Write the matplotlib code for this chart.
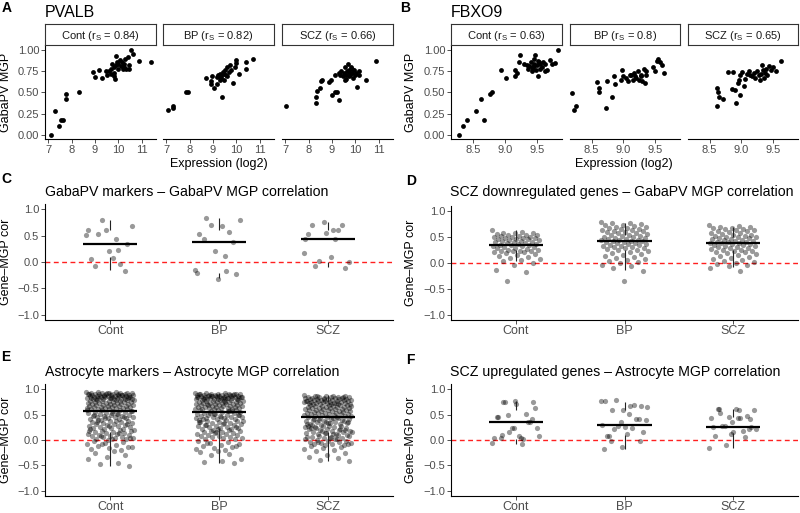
import numpy as np
import matplotlib.pyplot as plt

plt.rcParams['font.family'] = ['Liberation Sans', 'DejaVu Sans']
plt.rcParams['mathtext.fontset'] = 'custom'
plt.rcParams['mathtext.rm'] = 'Liberation Sans'

# ---------------- data: panel A (PVALB) ----------------
groups = ['Cont', 'BP', 'SCZ']
pvalb_rs = ['0.84', '0.82', '0.66']
fbxo9_rs = ['0.63', '0.8', '0.65']

pvalb_cont_x = [7.10, 7.28, 7.45, 7.52, 7.63, 7.77, 7.77, 8.30, 8.90, 8.98, 9.17, 9.29, 9.46, 9.60,
                9.67, 9.74, 9.80, 9.83, 9.87, 9.92, 9.95, 9.98, 10.00, 10.06, 10.12, 10.16, 10.20,
                10.26, 10.30, 10.34, 10.40, 10.44, 10.48, 10.54, 10.65, 10.90, 11.39, 9.80, 9.67,
                9.53, 10.25, 9.90]
pvalb_cont_y = [0.00, 0.28, 0.10, 0.18, 0.18, 0.48, 0.42, 0.50, 0.74, 0.68, 0.76, 0.67, 0.75, 0.75,
                0.78, 0.84, 0.80, 0.73, 0.66, 0.93, 0.86, 0.78, 0.84, 0.88, 0.81, 0.86, 0.78,
                0.84, 0.89, 0.78, 0.92, 0.78, 0.82, 1.00, 0.95, 0.87, 0.86, 0.69, 0.72,
                0.70, 0.80, 0.82]
pvalb_bp_x = [7.07, 7.27, 7.28, 7.85, 7.92, 8.70, 8.90, 8.90, 8.96, 9.03, 9.15, 9.22, 9.29, 9.36,
              9.39, 9.44, 9.48, 9.50, 9.55, 9.58, 9.62, 9.67, 9.72, 9.77, 9.86, 9.94, 9.97, 10.00,
              10.11, 10.40, 10.42, 10.72, 9.36, 9.46, 9.15, 9.29]
pvalb_bp_y = [0.29, 0.32, 0.34, 0.50, 0.50, 0.67, 0.64, 0.60, 0.69, 0.55, 0.60, 0.71, 0.65, 0.69,
              0.45, 0.74, 0.65, 0.77, 0.71, 0.80, 0.69, 0.74, 0.82, 0.76, 0.61, 0.80, 0.88, 0.85,
              0.72, 0.78, 0.86, 0.89, 0.67, 0.72, 0.68, 0.72]
pvalb_scz_x = [7.04, 8.30, 8.33, 8.36, 8.47, 8.54, 8.57, 8.85, 8.96, 9.00, 9.14, 9.21, 9.28, 9.14,
               9.28, 9.36, 9.40, 9.47, 9.50, 9.54, 9.57, 9.61, 9.64, 9.68, 9.71, 9.75, 9.78, 9.82,
               9.86, 9.90, 9.96, 10.00, 10.04, 10.07, 10.14, 10.18, 10.47, 10.90, 9.61, 9.86, 9.75]
pvalb_scz_y = [0.34, 0.37, 0.45, 0.52, 0.55, 0.63, 0.65, 0.62, 0.65, 0.47, 0.51, 0.51, 0.41, 0.71,
               0.73, 0.70, 0.75, 0.69, 0.73, 0.65, 0.80, 0.71, 0.75, 0.84, 0.69, 0.76, 0.71, 0.80,
               0.73, 0.67, 0.76, 0.71, 0.73, 0.56, 0.75, 0.71, 0.65, 0.87, 0.66, 0.78, 0.74]

# ---------------- data: panel B (FBXO9) ----------------
fbxo9_cont_x = [8.29, 8.35, 8.41, 8.55, 8.62, 8.67, 8.77, 8.80, 8.94, 9.02, 9.15, 9.16, 9.19, 9.22,
                9.24, 9.30, 9.34, 9.38, 9.40, 9.42, 9.44, 9.45, 9.46, 9.47, 9.48, 9.50, 9.51, 9.53,
                9.54, 9.55, 9.58, 9.60, 9.62, 9.63, 9.66, 9.71, 9.74, 9.78, 9.83, 9.42, 9.36, 9.45,
                9.51]
fbxo9_cont_y = [0.00, 0.10, 0.18, 0.28, 0.42, 0.18, 0.48, 0.50, 0.76, 0.67, 0.77, 0.69, 0.73, 0.86,
                0.94, 0.84, 0.82, 0.81, 0.86, 0.80, 0.78, 0.90, 0.84, 0.94, 0.76, 0.82, 0.69, 0.86,
                0.78, 0.84, 0.80, 0.86, 0.83, 0.75, 0.76, 0.88, 0.84, 0.85, 1.00, 0.75, 0.78, 0.81,
                0.87]
fbxo9_bp_x = [8.19, 8.22, 8.25, 8.58, 8.61, 8.62, 8.74, 8.73, 8.82, 8.85, 8.87, 8.96, 8.98, 9.00,
              9.04, 9.08, 9.12, 9.15, 9.18, 9.20, 9.23, 9.25, 9.27, 9.30, 9.32, 9.34, 9.35, 9.36,
              9.47, 9.50, 9.53, 9.55, 9.58, 9.61, 9.64, 9.17, 9.10, 9.28]
fbxo9_bp_y = [0.49, 0.29, 0.34, 0.62, 0.55, 0.50, 0.64, 0.32, 0.45, 0.69, 0.60, 0.65, 0.77, 0.69,
              0.67, 0.63, 0.71, 0.65, 0.69, 0.67, 0.75, 0.65, 0.71, 0.63, 0.78, 0.61, 0.70, 0.75,
              0.80, 0.75, 0.87, 0.89, 0.86, 0.82, 0.73, 0.73, 0.70, 0.69]
fbxo9_scz_x = [8.61, 8.62, 8.63, 8.65, 8.71, 8.79, 8.85, 8.87, 8.90, 8.92, 8.95, 8.96, 8.97, 8.98,
               9.01, 9.04, 9.06, 9.09, 9.12, 9.14, 9.17, 9.20, 9.22, 9.25, 9.27, 9.29, 9.31, 9.33,
               9.34, 9.35, 9.37, 9.39, 9.41, 9.44, 9.46, 9.50, 9.55, 9.62]
fbxo9_scz_y = [0.34, 0.55, 0.51, 0.45, 0.42, 0.74, 0.54, 0.74, 0.53, 0.38, 0.61, 0.65, 0.71, 0.47,
               0.74, 0.58, 0.66, 0.72, 0.75, 0.70, 0.69, 0.73, 0.67, 0.75, 0.70, 0.65, 0.72, 0.82,
               0.76, 0.67, 0.73, 0.78, 0.71, 0.81, 0.76, 0.80, 0.75, 0.87]

# ---------------- data: panels C-F (gene-MGP correlations) ----------------
c_cont = [0.51, 0.44, 0.53, 0.35, 0.21, 0.06, -0.04, 0.79, 0.68, 0.08, -0.08, -0.18, 0.61, 0.61, 0.23]
c_bp = [-0.15, 0.11, 0.84, -0.22, -0.32, 0.54, 0.57, 0.70, 0.79, 0.68, 0.44, 0.38, 0.21, -0.21, -0.17]
c_scz = [0.17, 0.60, -0.08, -0.12, 0.55, 0.53, 0.61, 0.02, 0.00, 0.09, 0.70, 0.71, 0.76, 0.44, 0.44]

d_cont = [0.63, 0.60, 0.58, 0.57, 0.57, 0.56, 0.55, 0.55, 0.54, 0.53, 0.52, 0.51, 0.50, 0.50, 0.49,
          0.48, 0.48, 0.47, 0.46, 0.46, 0.45, 0.44, 0.43, 0.42, 0.41, 0.40, 0.40, 0.39, 0.38, 0.37,
          0.36, 0.35, 0.35, 0.34, 0.33, 0.32, 0.31, 0.30, 0.29, 0.28, 0.27, 0.26, 0.25, 0.24, 0.24,
          0.23, 0.23, 0.22, 0.21, 0.20, 0.18, 0.16, 0.14, 0.12, 0.10, 0.08, 0.05, 0.03, 0.00, -0.04,
          -0.13, -0.18, -0.35]
d_bp = [0.80, 0.78, 0.77, 0.75, 0.74, 0.73, 0.72, 0.70, 0.69, 0.68, 0.67, 0.66, 0.65, 0.64, 0.63,
        0.62, 0.61, 0.60, 0.59, 0.58, 0.57, 0.56, 0.55, 0.54, 0.53, 0.52, 0.51, 0.50, 0.49, 0.48,
        0.47, 0.46, 0.45, 0.44, 0.44, 0.43, 0.43, 0.42, 0.41, 0.40, 0.39, 0.38, 0.37, 0.36, 0.35,
        0.34, 0.33, 0.32, 0.31, 0.30, 0.29, 0.28, 0.27, 0.26, 0.25, 0.24, 0.22, 0.20, 0.18, 0.16,
        0.14, 0.12, 0.10, 0.08, 0.06, 0.04, 0.02, 0.00, -0.03, -0.06, -0.10, -0.15, -0.35]
d_scz = [0.73, 0.71, 0.70, 0.69, 0.68, 0.67, 0.66, 0.65, 0.64, 0.63, 0.62, 0.61, 0.60, 0.58, 0.57,
         0.56, 0.55, 0.54, 0.53, 0.52, 0.51, 0.50, 0.50, 0.49, 0.48, 0.47, 0.46, 0.45, 0.44, 0.43,
         0.42, 0.41, 0.40, 0.40, 0.39, 0.39, 0.38, 0.37, 0.36, 0.35, 0.34, 0.33, 0.32, 0.31, 0.30,
         0.29, 0.28, 0.27, 0.26, 0.25, 0.24, 0.23, 0.22, 0.21, 0.20, 0.18, 0.16, 0.14, 0.12, 0.10,
         0.08, 0.06, 0.04, 0.02, 0.00, -0.02, -0.04, -0.06, -0.09, -0.16]

e_cont = [0.95, 0.94, 0.94, 0.93, 0.93, 0.93, 0.92, 0.92, 0.92, 0.91, 0.91, 0.91, 0.90, 0.90, 0.90,
          0.90, 0.89, 0.89, 0.89, 0.88, 0.88, 0.88, 0.87, 0.87, 0.87, 0.86, 0.86, 0.86, 0.85, 0.85,
          0.85, 0.84, 0.84, 0.84, 0.83, 0.83, 0.83, 0.82, 0.82, 0.82, 0.81, 0.81, 0.81, 0.80, 0.80,
          0.80, 0.92, 0.90, 0.88, 0.86, 0.84, 0.83, 0.81, 0.89, 0.87,
          0.79, 0.79, 0.78, 0.78, 0.77, 0.77, 0.76, 0.76, 0.75, 0.75, 0.74, 0.74, 0.73, 0.73, 0.72,
          0.72, 0.71, 0.71, 0.70, 0.70, 0.69, 0.69, 0.68, 0.68, 0.67, 0.67, 0.66, 0.66, 0.65, 0.65,
          0.64, 0.64, 0.63, 0.63, 0.62, 0.62, 0.61, 0.61, 0.60, 0.60,
          0.59, 0.58, 0.57, 0.56, 0.55, 0.55, 0.54, 0.53, 0.52, 0.51, 0.50, 0.49, 0.48, 0.48, 0.47,
          0.46, 0.45, 0.45, 0.44, 0.43, 0.42, 0.41, 0.40, 0.57, 0.53, 0.50, 0.46, 0.43, 0.58, 0.52,
          0.39, 0.38, 0.37, 0.36, 0.35, 0.34, 0.33, 0.32, 0.31, 0.30, 0.29, 0.28, 0.27, 0.26, 0.25,
          0.24, 0.23, 0.22, 0.21, 0.20, 0.38, 0.35, 0.31, 0.27, 0.22,
          0.19, 0.18, 0.17, 0.16, 0.15, 0.14, 0.13, 0.12, 0.11, 0.10, 0.09, 0.08, 0.07, 0.06, 0.05,
          0.04, 0.03, 0.02, 0.01, 0.00, 0.17, 0.13, 0.08, 0.04, 0.01,
          -0.02, -0.04, -0.06, -0.08, -0.10, -0.12, -0.14, -0.16, -0.18, -0.20, -0.07, -0.13,
          -0.22, -0.25, -0.30, -0.34, -0.38, -0.45, -0.48, -0.51]
e_bp = [0.93, 0.92, 0.92, 0.91, 0.91, 0.91, 0.90, 0.90, 0.90, 0.89, 0.89, 0.89, 0.88, 0.88, 0.88,
        0.87, 0.87, 0.87, 0.86, 0.86, 0.86, 0.85, 0.85, 0.85, 0.84, 0.84, 0.84, 0.83, 0.83, 0.83,
        0.82, 0.82, 0.82, 0.81, 0.81, 0.81, 0.80, 0.80, 0.80, 0.91, 0.89, 0.87, 0.85, 0.83, 0.81,
        0.90, 0.86, 0.84, 0.82, 0.88,
        0.79, 0.79, 0.78, 0.78, 0.77, 0.77, 0.76, 0.76, 0.75, 0.75, 0.74, 0.74, 0.73, 0.73, 0.72,
        0.72, 0.71, 0.71, 0.70, 0.70, 0.69, 0.69, 0.68, 0.68, 0.67, 0.67, 0.66, 0.66, 0.65, 0.65,
        0.64, 0.64, 0.63, 0.63, 0.62, 0.62, 0.61, 0.61, 0.60, 0.60, 0.75, 0.70,
        0.59, 0.58, 0.58, 0.57, 0.56, 0.55, 0.55, 0.54, 0.53, 0.52, 0.51, 0.50, 0.50, 0.49, 0.48,
        0.47, 0.46, 0.45, 0.45, 0.44, 0.43, 0.42, 0.41, 0.40, 0.57, 0.53, 0.49, 0.46, 0.42, 0.56,
        0.51, 0.44,
        0.39, 0.38, 0.37, 0.36, 0.35, 0.34, 0.33, 0.32, 0.31, 0.30, 0.29, 0.28, 0.27, 0.26, 0.25,
        0.24, 0.23, 0.22, 0.21, 0.20, 0.37, 0.33, 0.29, 0.26, 0.22, 0.35,
        0.19, 0.18, 0.17, 0.16, 0.15, 0.14, 0.13, 0.12, 0.11, 0.10, 0.09, 0.08, 0.07, 0.06, 0.05,
        0.04, 0.03, 0.02, 0.01, 0.15,
        -0.01, -0.03, -0.05, -0.07, -0.09, -0.11, -0.13, -0.15, -0.17, -0.19, -0.06, -0.12,
        -0.21, -0.24, -0.27, -0.30, -0.38, -0.42, -0.44, -0.46]
e_scz = [0.88, 0.87, 0.87, 0.86, 0.86, 0.85, 0.85, 0.85, 0.84, 0.84, 0.83, 0.83, 0.83, 0.82, 0.82,
         0.81, 0.81, 0.81, 0.80, 0.80, 0.79, 0.79, 0.79, 0.78, 0.78, 0.77, 0.77, 0.77, 0.76, 0.76,
         0.75, 0.75, 0.75, 0.74, 0.74, 0.73, 0.73, 0.73, 0.72, 0.72, 0.71, 0.71, 0.71, 0.70, 0.70,
         0.84, 0.80, 0.76, 0.72, 0.86,
         0.69, 0.69, 0.68, 0.68, 0.67, 0.67, 0.66, 0.66, 0.65, 0.65, 0.64, 0.64, 0.63, 0.63, 0.62,
         0.62, 0.61, 0.61, 0.60, 0.60, 0.59, 0.59, 0.58, 0.58, 0.57, 0.57, 0.56, 0.56, 0.55, 0.55,
         0.54, 0.54, 0.53, 0.53, 0.52, 0.52, 0.51, 0.51, 0.50, 0.50,
         0.49, 0.48, 0.47, 0.46, 0.45, 0.44, 0.43, 0.42, 0.41, 0.40, 0.39, 0.38, 0.37, 0.36, 0.35,
         0.34, 0.33, 0.32, 0.31, 0.30, 0.47, 0.44, 0.41, 0.38, 0.35, 0.32, 0.46, 0.40, 0.36, 0.33,
         0.29, 0.28, 0.27, 0.26, 0.25, 0.24, 0.23, 0.22, 0.21, 0.20, 0.19, 0.18, 0.17, 0.16, 0.15,
         0.14, 0.13, 0.12, 0.11, 0.10, 0.27, 0.24, 0.21, 0.18, 0.15, 0.12, 0.25, 0.19, 0.14, 0.28,
         0.09, 0.08, 0.07, 0.06, 0.05, 0.04, 0.03, 0.02, 0.01, 0.00, -0.01, -0.02, -0.03, -0.04,
         -0.05, -0.06, -0.07, -0.08, -0.09, -0.10, 0.06, 0.02, -0.03, -0.07, 0.04,
         -0.12, -0.14, -0.16, -0.18, -0.20, -0.22, -0.25, -0.30, -0.33, -0.36, -0.40, -0.42]

f_cont = [-0.06, -0.08, 0.74, 0.75, 0.77, 0.46, 0.51, 0.49, 0.23, 0.07, 0.03, 0.36, 0.23, 0.03,
          0.02, 0.74, 0.62, 0.71, 0.46, 0.36, 0.15, 0.08, 0.03, 0.10, 0.41, 0.23]
f_bp = [0.77, 0.67, 0.58, 0.67, 0.58, 0.77, 0.69, 0.79, 0.39, 0.12, 0.08, 0.41, 0.36, 0.29, 0.23,
        0.22, 0.15, 0.25, 0.07, 0.42, 0.28, 0.64, 0.51, -0.01, -0.01, -0.14, -0.18]
f_scz = [-0.16, 0.59, 0.54, 0.41, 0.35, 0.25, 0.18, 0.28, 0.58, 0.61, 0.61, 0.48, 0.46, 0.44, 0.43,
         0.28, 0.25, 0.15, 0.08, 0.05, -0.10, 0.22, 0.44, 0.61, 0.22, 0.12]

# median line and whisker ends
c_med, c_q1, c_q3, c_lo, c_hi = [0.35, 0.37, 0.44], [0.10, -0.20, 0.00], [0.60, 0.60, 0.60], [-0.15, -0.30, -0.10], [0.80, 0.84, 0.76]
d_med, d_q1, d_q3, d_lo, d_hi = [0.35, 0.43, 0.39], [0.26, 0.25, 0.25], [0.45, 0.55, 0.50], [0.03, -0.13, -0.08], [0.63, 0.78, 0.70]
e_med, e_q1, e_q3, e_lo, e_hi = [0.56, 0.55, 0.45], [0.15, 0.24, 0.15], [0.85, 0.85, 0.75], [-0.51, -0.46, -0.42], [0.95, 0.93, 0.88]
f_med, f_q1, f_q3, f_lo, f_hi = [0.36, 0.29, 0.26], [0.02, 0.10, 0.13], [0.58, 0.58, 0.46], [-0.08, -0.18, -0.16], [0.77, 0.75, 0.60]

# ---------------- layout helpers ----------------
W, H = 800, 513
fig = plt.figure(figsize=(W / 100, H / 100), dpi=100)

TICK_C = '#333333'
LAB_C = '#4D4D4D'


def box(x0, y0, x1, y1):
    # pixel rectangle (top-left origin) -> figure fraction
    return [x0 / W, 1 - y1 / H, (x1 - x0) / W, (y1 - y0) / H]


def ftext(x, y, s, **kw):
    fig.text(x / W, 1 - y / H, s, **kw)


def style_axes(ax, left=True):
    for sp in ['top', 'right']:
        ax.spines[sp].set_visible(False)
    ax.spines['left'].set_visible(left)
    for sp in ['left', 'bottom']:
        ax.spines[sp].set_linewidth(0.8)
        ax.spines[sp].set_color('black')
    ax.tick_params(direction='out', length=2.7, width=0.6, color=TICK_C,
                   labelcolor=LAB_C, labelsize=8, pad=1.5)
    if not left:
        ax.tick_params(axis='y', left=False, labelleft=False)


def facet_row(x_edges, xs, ys, rs, xlim, xticks, xticklabels):
    for i, (x0, x1) in enumerate(x_edges):
        ax = fig.add_axes(box(x0, 45, x1, 139))
        ax.scatter(xs[i], ys[i], s=12, c='black', linewidths=0)
        ax.set_xlim(xlim)
        ax.set_ylim(-0.05, 1.06)
        ax.set_xticks(xticks)
        ax.set_xticklabels(xticklabels)
        ax.set_yticks([0, 0.25, 0.5, 0.75, 1.0])
        ax.set_yticklabels(['0.00', '0.25', '0.50', '0.75', '1.00'])
        style_axes(ax, left=(i == 0))
        st = fig.add_axes(box(x0, 24, x1, 45))
        st.set_xticks([])
        st.set_yticks([])
        for sp in st.spines.values():
            sp.set_linewidth(0.8)
            sp.set_color('#333333')
        st.text(0.5, 0.45, groups[i] + r' (r$_\mathregular{S}$ = ' + rs[i] + ')',
                ha='center', va='center', fontsize=8, color='#1A1A1A', transform=st.transAxes)


def jitter_panel(x0, y0, x1, y1, vals, med, q1, q3, lo, hi):
    ax = fig.add_axes(box(x0, y0, x1, y1))
    pos = np.arange(1, 4)
    for i, v in enumerate(vals):
        v = np.array(v)
        off = ((np.arange(len(v)) * 0.618034) % 1 - 0.5) * 0.44
        ax.scatter(pos[i] + off, v, s=14, c='black', alpha=0.4, linewidths=0, zorder=2)
    ax.axhline(0, color='#FF2020', lw=1.0, ls=(0, (3.5, 2.5)), zorder=1)
    ax.vlines(pos, q3, hi, color='#222222', lw=0.8, zorder=3)
    ax.vlines(pos, lo, q1, color='#222222', lw=0.8, zorder=3)
    ax.hlines(med, pos - 0.25, pos + 0.25, color='black', lw=1.6, zorder=3)
    ax.set_xlim(0.4, 3.6)
    ax.set_ylim(-1.1, 1.1)
    ax.set_yticks([-1, -0.5, 0, 0.5, 1])
    ax.set_yticklabels(['\u22121.0', '\u22120.5', '0.0', '0.5', '1.0'])
    ax.set_xticks(pos)
    ax.set_xticklabels(groups)
    style_axes(ax)
    ax.tick_params(axis='x', labelsize=9, pad=0.8)
    return ax


# ---------------- panel A ----------------
ftext(2, 12, 'A', fontsize=10, fontweight='bold')
ftext(45, 17, 'PVALB', fontsize=11.5)
facet_row([(45, 156), (163, 274), (282, 393)],
          [pvalb_cont_x, pvalb_bp_x, pvalb_scz_x], [pvalb_cont_y, pvalb_bp_y, pvalb_scz_y],
          pvalb_rs, (6.85, 11.62), [7, 8, 9, 10, 11], ['7', '8', '9', '10', '11'])
ftext(6, 92, 'GabaPV MGP', fontsize=9, rotation=90, ha='center', va='center')
ftext(219, 164, 'Expression (log2)', fontsize=9, ha='center', va='center')

# ---------------- panel B ----------------
ftext(400, 12, 'B', fontsize=10, fontweight='bold')
ftext(451, 17, 'FBXO9', fontsize=11.5)
facet_row([(451, 562), (570, 680), (688, 798)],
          [fbxo9_cont_x, fbxo9_bp_x, fbxo9_scz_x], [fbxo9_cont_y, fbxo9_bp_y, fbxo9_scz_y],
          fbxo9_rs, (8.16, 9.89), [8.5, 9.0, 9.5], ['8.5', '9.0', '9.5'])
ftext(411, 92, 'GabaPV MGP', fontsize=9, rotation=90, ha='center', va='center')
ftext(624, 164, 'Expression (log2)', fontsize=9, ha='center', va='center')

# ---------------- panels C-F ----------------
ftext(1, 183, 'C', fontsize=10, fontweight='bold')
ftext(45, 196, 'GabaPV markers \u2013 GabaPV MGP correlation', fontsize=10.2)
jitter_panel(45, 204, 393, 320, [c_cont, c_bp, c_scz], c_med, c_q1, c_q3, c_lo, c_hi)
ftext(6, 262, 'Gene\u2013MGP cor', fontsize=9, rotation=90, ha='center', va='center')

ftext(406, 185, 'D', fontsize=10, fontweight='bold')
ftext(450, 196, 'SCZ downregulated genes \u2013 GabaPV MGP correlation', fontsize=10.2)
jitter_panel(451, 206, 798, 320, [d_cont, d_bp, d_scz], d_med, d_q1, d_q3, d_lo, d_hi)
ftext(411, 263, 'Gene\u2013MGP cor', fontsize=9, rotation=90, ha='center', va='center')

ftext(1, 361, 'E', fontsize=10, fontweight='bold')
ftext(45, 376, 'Astrocyte markers \u2013 Astrocyte MGP correlation', fontsize=10.2)
jitter_panel(45, 384, 393, 496, [e_cont, e_bp, e_scz], e_med, e_q1, e_q3, e_lo, e_hi)
ftext(6, 440, 'Gene\u2013MGP cor', fontsize=9, rotation=90, ha='center', va='center')

ftext(406, 364, 'F', fontsize=10, fontweight='bold')
ftext(450, 376, 'SCZ upregulated genes \u2013 Astrocyte MGP correlation', fontsize=10.2)
jitter_panel(451, 384, 798, 496, [f_cont, f_bp, f_scz], f_med, f_q1, f_q3, f_lo, f_hi)
ftext(411, 440, 'Gene\u2013MGP cor', fontsize=9, rotation=90, ha='center', va='center')

fig.savefig('out.png', dpi=100)
